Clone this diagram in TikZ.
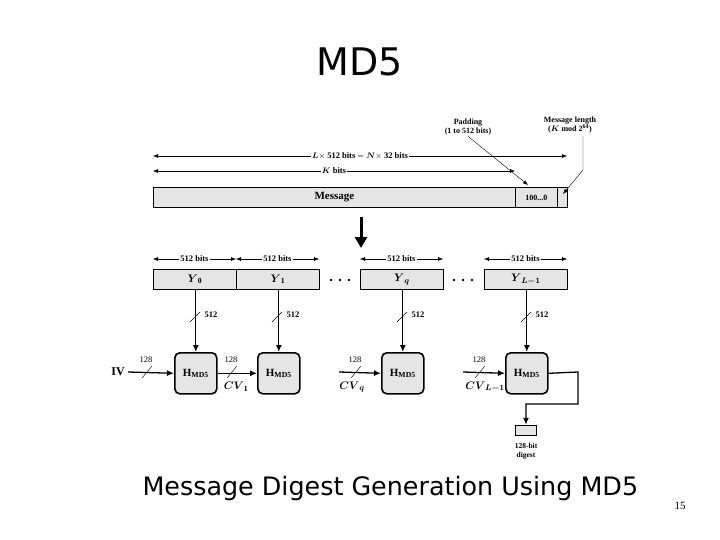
\documentclass[tikz,border=0pt]{standalone}
\usepackage{amsmath}
\usepackage{fontspec}
\setmainfont{Liberation Serif}
\newfontfamily\comic{DejaVu Sans}
\usetikzlibrary{arrows.meta}
\begin{document}
\begin{tikzpicture}[x=1pt,y=-1pt,
  lbl/.style={font=\bfseries\fontsize{8.5}{9}\selectfont,inner sep=1pt},
  bar/.style={draw,fill=gray!20,thick,minimum height=20pt,inner sep=0pt,anchor=north west},
  hbox/.style={draw,fill=gray!20,line width=1.6pt,rounded corners=5pt,minimum width=42pt,minimum height=41pt,anchor=north west,font=\bfseries\fontsize{11}{12}\selectfont},
  dim/.style={{Latex[length=5pt]}-{Latex[length=5pt]},thin},
  arr/.style={-{Latex[length=7pt,width=6pt]},line width=1.3pt},
  tick/.style={thin}]
\useasboundingbox (0,0) rectangle (720,540);
\node[font=\comic\fontsize{38}{42}\selectfont] (title) at (360,62) {MD5};
\node[font=\comic\fontsize{25.4}{28}\selectfont,anchor=west] (cap) at (139,488) {Message Digest Generation Using MD5};
\node[font=\fontsize{11}{12}\selectfont] (pg) at (680,506) {15};
% message bar
\node[bar,minimum width=362pt] (msg) at (153,187) {\fontsize{11}{12}\selectfont\bfseries Message};
\node[bar,minimum width=42pt] (pad) at (515,187) {\fontsize{8}{9}\selectfont\bfseries 100...0};
\node[bar,minimum width=10pt] (len) at (557,187) {};
% dimension lines
\coordinate (a1) at (153,156); \coordinate (a2) at (567,156);
\draw[dim] (a1) -- node[lbl,fill=white]{$\boldsymbol{L}\times$ 512 bits $= \boldsymbol{N}\times$ 32 bits} (a2);
\coordinate (k1) at (153,171); \coordinate (k2) at (515,171);
\draw[dim] (k1) -- node[lbl,fill=white]{$\boldsymbol{K}$ bits} (k2);
\node[lbl,align=center,font=\bfseries\fontsize{8}{9}\selectfont] (padl) at (468,127) {Padding\\(1 to 512 bits)};
\draw[-{Latex[length=5pt]},thin] (padl.south) -- (528,185);
\node[lbl,align=center,font=\bfseries\fontsize{8}{9}\selectfont] (lenl) at (570,125) {Message length\\($\boldsymbol{K}$ mod 2$^{\mathbf{64}}$)};
\draw[-{Latex[length=5pt]},thin] (583,136) -- (583,170) -- (563,194);
% big arrow
\coordinate (b1) at (361,217); \coordinate (b2) at (361,248);
\draw[-{Triangle[length=11pt,width=12pt]},line width=3pt] (b1) -- (b2);
% blocks
\node[bar,minimum width=83pt] (y0) at (153,269) {\fontsize{11}{12}\selectfont $\boldsymbol{Y}_{\mathbf 0}$};
\node[bar,minimum width=83pt] (y1) at (236,269) {\fontsize{11}{12}\selectfont $\boldsymbol{Y}_{\mathbf 1}$};
\node[bar,minimum width=83pt] (yq) at (360,269) {\fontsize{11}{12}\selectfont $\boldsymbol{Y}_{\boldsymbol q}$};
\node[bar,minimum width=83pt] (yl) at (484,269) {\fontsize{11}{12}\selectfont $\boldsymbol{Y}_{\boldsymbol{L-1}}$};
\foreach \x in {331,340,349,454,463,472} \fill (\x,280) circle (1.4pt);
\foreach \xa/\xb in {153/236,236/319,360/443,484/567}
  \draw[dim] (\xa,259) -- node[lbl,fill=white]{512 bits} (\xb,259);
% H boxes
\node[hbox] (h1) at (174,352) {H$_{\text{MD5}}$};
\node[hbox] (h2) at (257,352) {H$_{\text{MD5}}$};
\node[hbox] (h3) at (381,352) {H$_{\text{MD5}}$};
\node[hbox] (h4) at (505,352) {H$_{\text{MD5}}$};
\foreach \y/\h in {y0/h1,y1/h2,yq/h3,yl/h4}{
  \draw[arr] (\y.south -| \h.north) -- (\h.north);
}
\foreach \x in {195,277,402,526}{
  \draw[tick] (\x-5,322) -- (\x+5,312);
  \node[font=\bfseries\fontsize{8.5}{9}\selectfont,anchor=west] at (\x+6,315) {512};
}
\node[font=\bfseries\fontsize{12}{13}\selectfont] (iv) at (118,372) {IV};
\draw[arr] (iv.east) -- (h1.west);
\draw[arr] (h1.east) -- (h2.west);
\coordinate (cq) at (339,372); \coordinate (cl) at (463,372);
\draw[arr] (cq) -- (h3.west);
\draw[arr] (cl) -- (h4.west);
\foreach \x in {147,232,356,480}{
  \draw[tick] (\x-5,378) -- (\x+5,366);
  \node[font=\fontsize{8.5}{9}\selectfont] at (\x-1,360) {128};
}
\node[font=\fontsize{11}{12}\selectfont] at (236,387) {$\boldsymbol{CV}_{\mathbf 1}$};
\node[font=\fontsize{11}{12}\selectfont] at (352,387) {$\boldsymbol{CV}_{\boldsymbol q}$};
\node[font=\fontsize{11}{12}\selectfont] at (485,387) {$\boldsymbol{CV}_{\boldsymbol{L-1}}$};
% digest
\node[draw,fill=gray!20,minimum width=21pt,minimum height=10pt,inner sep=0pt] (dg) at (526,430) {};
\draw[arr] (h4.east) -- (578,372) -- (578,404) -- (526,404) -- (dg.north);
\node[lbl,align=center,font=\bfseries\fontsize{7.5}{8.5}\selectfont] (dgl) at (526,451) {128-bit\\digest};
\end{tikzpicture}
\end{document}
